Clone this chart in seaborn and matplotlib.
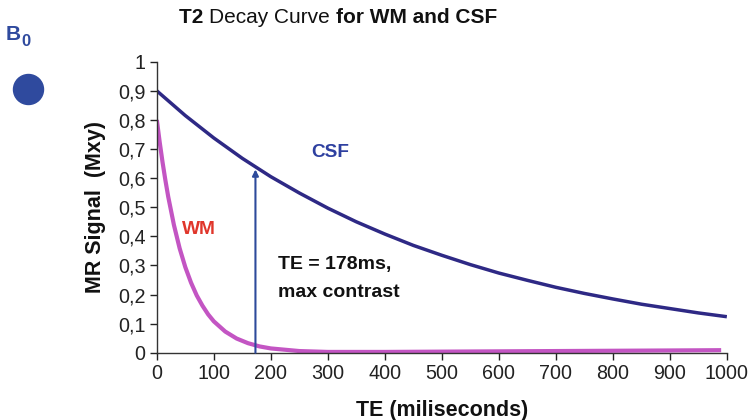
import matplotlib
matplotlib.use("Agg")
import matplotlib.pyplot as plt
import seaborn as sns
import pandas as pd
from matplotlib.patches import Circle

# ---- data ----
csf_te = [0, 50, 100, 150, 200, 250, 300, 350, 400, 450, 500, 550, 600, 650, 700,
          750, 800, 850, 900, 950, 1000]
csf_signal = [0.900, 0.815, 0.738, 0.668, 0.605, 0.549, 0.497, 0.450, 0.408, 0.369,
              0.335, 0.303, 0.274, 0.249, 0.225, 0.204, 0.185, 0.167, 0.152, 0.137, 0.124]

wm_te = [0, 5, 10, 15, 20, 30, 40, 50, 60, 70, 80, 90, 100, 120, 140, 160, 180, 200,
         250, 300, 400, 500, 600, 700, 800, 900, 990]
wm_signal = [0.800, 0.724, 0.655, 0.593, 0.536, 0.439, 0.359, 0.294, 0.241, 0.197,
             0.162, 0.132, 0.108, 0.073, 0.049, 0.033, 0.022, 0.015, 0.006, 0.003,
             0.003, 0.004, 0.005, 0.006, 0.007, 0.008, 0.009]

x_ticks = [0, 100, 200, 300, 400, 500, 600, 700, 800, 900, 1000]
y_ticks = [0, 0.1, 0.2, 0.3, 0.4, 0.5, 0.6, 0.7, 0.8, 0.9, 1.0]
y_tick_labels = ["0", "0,1", "0,2", "0,3", "0,4", "0,5", "0,6", "0,7", "0,8", "0,9", "1"]

arrow_te = 173
arrow_top = 0.63

sns.set_style("ticks")
plt.rcParams["font.family"] = ["Liberation Sans", "DejaVu Sans"]

fig = plt.figure(figsize=(7.54, 4.20), dpi=100)
ax = fig.add_axes([0.208, 0.160, 0.756, 0.693])

csf_df = pd.DataFrame({"TE": csf_te, "signal": csf_signal})
wm_df = pd.DataFrame({"TE": wm_te, "signal": wm_signal})

sns.lineplot(data=wm_df, x="TE", y="signal", ax=ax, color="#c355c3", lw=3.0,
             solid_capstyle="butt")
sns.lineplot(data=csf_df, x="TE", y="signal", ax=ax, color="#2e2985", lw=2.5,
             solid_capstyle="butt")

ax.set_xlim(0, 1000)
ax.set_ylim(0, 1)
ax.set_xticks(x_ticks)
ax.set_xticklabels([str(t) for t in x_ticks])
ax.set_yticks(y_ticks)
ax.set_yticklabels(y_tick_labels)
ax.tick_params(axis="both", labelsize=14.2, length=5, width=1, colors="#222222",
               direction="out", pad=3)
for s in ["top", "right"]:
    ax.spines[s].set_visible(False)
for s in ["left", "bottom"]:
    ax.spines[s].set_color("#333333")
    ax.spines[s].set_linewidth(1.0)

ax.set_xlabel("TE (miliseconds)", fontsize=15.5, fontweight="bold", color="#111111", labelpad=12)
ax.set_ylabel("MR Signal  (Mxy)", fontsize=15.5, fontweight="bold", color="#111111", labelpad=9)

# arrow at max contrast TE
ax.annotate("", xy=(arrow_te, arrow_top), xytext=(arrow_te, 0),
            arrowprops=dict(arrowstyle="-|>", color="#2d4a9b", lw=1.5,
                            mutation_scale=9, shrinkA=0, shrinkB=0))

ax.text(305, 0.687, "CSF", color="#2e40a0", fontsize=13.7, fontweight="bold",
        ha="center", va="center")
ax.text(74, 0.423, "WM", color="#e0362b", fontsize=13.8, fontweight="bold",
        ha="center", va="center")
ax.text(212, 0.302, "TE = 178ms,", color="#111111", fontsize=14, fontweight="bold",
        ha="left", va="center")
ax.text(212, 0.206, "max contrast", color="#111111", fontsize=14, fontweight="bold",
        ha="left", va="center")

# title with mixed weights
parts = [("T2 ", "bold"), ("Decay Curve ", "normal"), ("for WM and CSF", "bold")]
fig.canvas.draw()
renderer = fig.canvas.get_renderer()
x_px = 179
for txt, w in parts:
    t = fig.text(x_px / 754, 1 - 17.5 / 420, txt, fontsize=15, fontweight=w,
                 color="#111111", ha="left", va="center")
    bb = t.get_window_extent(renderer=renderer)
    x_px += bb.width

# B0 label and circle
fig.text(6 / 754, 1 - 35 / 420, "B", fontsize=15, fontweight="bold", color="#2f4a9e",
         ha="left", va="center")
fig.text(21.5 / 754, 1 - 42 / 420, "0", fontsize=12, fontweight="bold", color="#2f4a9e",
         ha="left", va="center")
circ = Circle((28.5, 420 - 89.5), 15, transform=None, color="#2f4a9e", zorder=5)
fig.patches.append(circ)

fig.savefig("out.png", dpi=100)
